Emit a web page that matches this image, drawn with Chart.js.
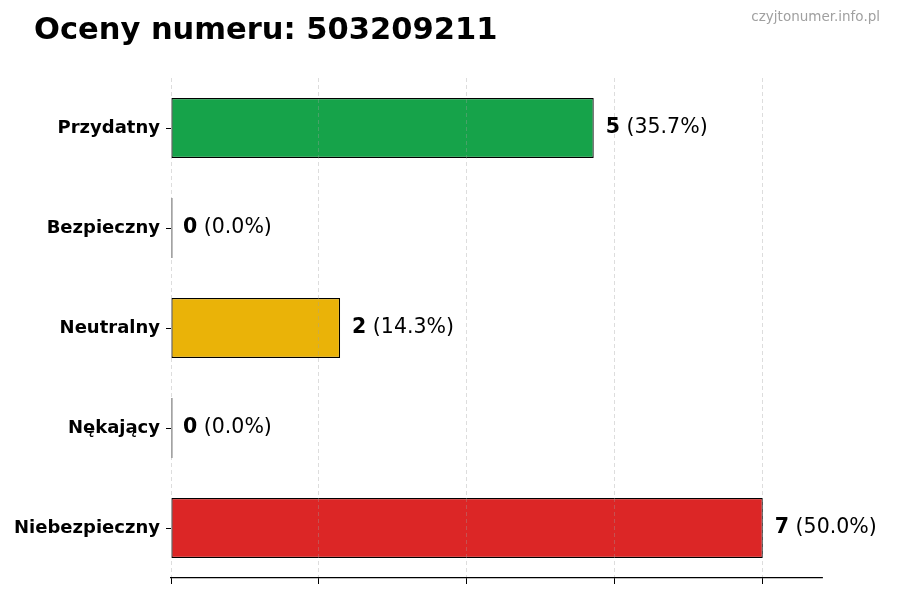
<!DOCTYPE html>
<html>
<head>
<meta charset="utf-8">
<script src="https://cdn.jsdelivr.net/npm/chart.js@4/dist/chart.umd.min.js"></script>
<style>
  html, body { margin: 0; padding: 0; background: #fff; }
  #wrap { width: 900px; height: 600px; position: relative; }
</style>
</head>
<body>
<div id="wrap"><canvas id="chart"></canvas></div>
<script>
var TITLE = 'Oceny numeru: 503209211';
var WATERMARK = 'czyjtonumer.info.pl';
var categories = ['Przydatny', 'Bezpieczny', 'Neutralny', 'Nękający', 'Niebezpieczny'];
var counts = [5, 0, 2, 0, 7];
var barColors = ['#16a34a', '#16a34a', '#eab308', '#dc2626', '#dc2626'];
var xTicks = [0, 1.75, 3.5, 5.25, 7];
var xMax = 7.7;

var total = counts.reduce(function (a, b) { return a + b; }, 0);
var FONT = '"DejaVu Sans", Verdana, sans-serif';

// title, watermark and "n (p%)" labels next to each bar
var labelPlugin = {
  id: 'labels',
  afterDraw: function (chart) {
    var ctx = chart.ctx;
    ctx.save();
    ctx.fillStyle = '#000';
    ctx.font = 'bold 30.5px ' + FONT;
    ctx.textBaseline = 'middle';
    ctx.textAlign = 'left';
    ctx.fillText(TITLE, 34, 31);

    ctx.fillStyle = '#a0a0a0';
    ctx.font = '13.5px ' + FONT;
    ctx.textAlign = 'right';
    ctx.fillText(WATERMARK, 880, 17);

    ctx.textAlign = 'left';
    var meta = chart.getDatasetMeta(0);
    meta.data.forEach(function (bar, i) {
      var x = chart.scales.x.getPixelForValue(counts[i]) + 12;
      var y = bar.y;
      var num = String(counts[i]);
      var pct = ' (' + (total ? (counts[i] / total * 100) : 0).toFixed(1) + '%)';
      ctx.fillStyle = '#000';
      ctx.font = 'bold 20.5px ' + FONT;
      ctx.fillText(num, x, y);
      var w = ctx.measureText(num).width;
      ctx.font = '20.5px ' + FONT;
      ctx.fillText(pct, x + w, y);
    });
    ctx.restore();
  }
};

new Chart(document.getElementById('chart').getContext('2d'), {
  type: 'bar',
  data: {
    labels: categories,
    datasets: [{
      data: counts,
      backgroundColor: barColors,
      borderColor: '#000',
      borderWidth: 1.2,
      borderSkipped: false,
      minBarLength: 1.5,
      barPercentage: 0.6,
      categoryPercentage: 1.0
    }]
  },
  options: {
    indexAxis: 'y',
    responsive: true,
    maintainAspectRatio: false,
    animation: false,
    layout: { padding: { left: 0, right: 78, top: 78, bottom: 0 } },
    plugins: {
      legend: { display: false },
      tooltip: { enabled: false },
      title: { display: false }
    },
    scales: {
      x: {
        min: 0,
        max: xMax,
        afterBuildTicks: function (scale) {
          scale.ticks = xTicks.map(function (v) { return { value: v }; });
        },
        afterFit: function (scale) { scale.height = 22; },
        ticks: { display: false },
        border: { display: true, color: '#000', width: 1.2, dash: [4, 3], z: 1 },
        grid: {
          z: 1,
          color: 'rgba(160,160,160,0.45)',
          lineWidth: 0.8,
          tickLength: 6,
          tickColor: '#000',
          tickWidth: 1,
          tickBorderDash: []
        }
      },
      y: {
        afterFit: function (scale) { scale.width = 171; },
        border: { display: false },
        grid: {
          offset: false,
          drawOnChartArea: false,
          tickLength: 5,
          tickColor: '#000',
          tickWidth: 1
        },
        ticks: {
          color: '#000',
          padding: 6,
          font: { family: FONT, size: 18, weight: 'bold' }
        }
      }
    }
  },
  plugins: [labelPlugin]
});
</script>
</body>
</html>
